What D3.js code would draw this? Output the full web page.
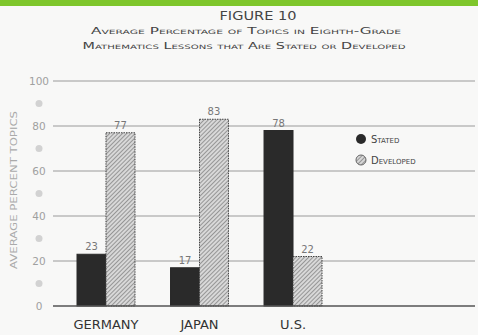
<!DOCTYPE html>
<html>
<head>
<meta charset="utf-8">
<script src="https://cdn.jsdelivr.net/npm/d3@7"></script>
<style>
  body { margin: 0; background: #f8f8f7; }
  svg { display: block; }
  text { font-family: "DejaVu Sans", sans-serif; }
</style>
</head>
<body>
<svg id="chart" width="478" height="335"></svg>
<script>
// data
const countries = ['GERMANY', 'JAPAN', 'U.S.']
const stated = [23, 17, 78]
const developed = [77, 83, 22]
const series = ['Stated', 'Developed']
const yTicks = [0, 20, 40, 60, 80, 100]
const yDots = [10, 30, 50, 70, 90]

const svg = d3.select('#chart')
const W = 478, H = 335

// green strip at the top
svg.append('rect').attr('x', 0).attr('y', 0).attr('width', W).attr('height', 6).attr('fill', '#7ec62b')

// hatch pattern for "developed"
const defs = svg.append('defs')
const pat = defs.append('pattern')
    .attr('id', 'hatch')
    .attr('patternUnits', 'userSpaceOnUse')
    .attr('width', 3).attr('height', 3)
    .attr('patternTransform', 'rotate(45)')
pat.append('rect').attr('width', 3).attr('height', 3).attr('fill', '#d8d8d8')
pat.append('line').attr('x1', 0).attr('y1', 0).attr('x2', 0).attr('y2', 3)
    .attr('stroke', '#6a6a6a').attr('stroke-width', 1.2)

// titles
const title = svg.append('g').attr('fill', '#444').attr('text-anchor', 'middle')
title.append('text').attr('x', 258).attr('y', 20).attr('font-size', 12.5)
    .attr('textLength', 77).attr('lengthAdjust', 'spacingAndGlyphs').text('FIGURE 10')
title.append('text').attr('x', 246).attr('y', 34).attr('font-size', 8.5)
    .style('font-variant', 'small-caps').attr('textLength', 310).attr('lengthAdjust', 'spacingAndGlyphs')
    .text('Average Percentage of Topics in Eighth-Grade')
title.append('text').attr('x', 244).attr('y', 49).attr('font-size', 8.5)
    .style('font-variant', 'small-caps').attr('textLength', 323).attr('lengthAdjust', 'spacingAndGlyphs')
    .text('Mathematics Lessons that Are Stated or Developed')

// scales
const x0 = d3.scaleBand().domain(countries).range([77, 322]).paddingInner(0.38).paddingOuter(0)
const x1 = d3.scaleBand().domain(series).range([0, x0.bandwidth()])
const y = d3.scaleLinear().domain([0, 100]).range([306, 81])

// gridlines
svg.append('g').selectAll('line').data(yTicks.filter(d => d > 0)).join('line')
    .attr('x1', 53).attr('x2', 475)
    .attr('y1', d => y(d)).attr('y2', d => y(d))
    .attr('stroke', '#9a9a9a').attr('stroke-width', 1)

// y tick labels
svg.append('g').selectAll('text').data(yTicks).join('text')
    .attr('x', 39).attr('y', d => y(d) + 4)
    .attr('text-anchor', 'middle').attr('font-size', 10.5).attr('fill', '#a0a0a0')
    .text(d => d)
svg.append('g').selectAll('circle').data(yDots).join('circle')
    .attr('cx', 39).attr('cy', d => y(d)).attr('r', 3.5).attr('fill', '#d2d2d2')

// y axis title
svg.append('text')
    .attr('transform', `translate(17,190) rotate(-90)`)
    .attr('text-anchor', 'middle').attr('font-size', 9.5).attr('fill', '#aaa')
    .attr('textLength', 158).attr('lengthAdjust', 'spacingAndGlyphs')
    .text('AVERAGE PERCENT TOPICS')

// bars
const rows = countries.map((c, i) => ({ c, vals: [{ s: 'Stated', v: stated[i] }, { s: 'Developed', v: developed[i] }] }))
const groups = svg.append('g').selectAll('g').data(rows).join('g')
    .attr('transform', d => `translate(${x0(d.c)},0)`)

groups.selectAll('rect').data(d => d.vals).join('rect')
    .attr('x', d => x1(d.s)).attr('width', x1.bandwidth())
    .attr('y', d => y(d.v)).attr('height', d => y(0) - y(d.v))
    .attr('fill', d => d.s === 'Stated' ? '#2a2a2a' : 'url(#hatch)')
    .attr('stroke', d => d.s === 'Stated' ? '#2a2a2a' : '#444')
    .attr('stroke-width', 1)
    .attr('stroke-dasharray', d => d.s === 'Stated' ? null : '1.5,1')

groups.selectAll('text').data(d => d.vals).join('text')
    .attr('x', d => x1(d.s) + x1.bandwidth() / 2)
    .attr('y', d => y(d.v) - 4)
    .attr('text-anchor', 'middle').attr('font-size', 10).attr('fill', '#777')
    .text(d => d.v)

// baseline
svg.append('line').attr('x1', 53).attr('x2', 475).attr('y1', y(0)).attr('y2', y(0))
    .attr('stroke', '#555').attr('stroke-width', 1.5)

// category labels
svg.append('g').selectAll('text').data(countries).join('text')
    .attr('x', d => x0(d) + x0.bandwidth() / 2).attr('y', 329)
    .attr('text-anchor', 'middle').attr('font-size', 13).attr('fill', '#333')
    .text(d => d)

// legend
const leg = svg.append('g').attr('transform', 'translate(361,139)')
leg.append('circle').attr('cx', 0).attr('cy', 0).attr('r', 5).attr('fill', '#2a2a2a')
leg.append('circle').attr('cx', 0).attr('cy', 21).attr('r', 5).attr('fill', 'url(#hatch)').attr('stroke', '#666')
leg.append('text').attr('x', 10).attr('y', 3.5).attr('font-size', 10).attr('fill', '#444')
    .style('font-variant', 'small-caps').text('Stated')
leg.append('text').attr('x', 10).attr('y', 24.5).attr('font-size', 10).attr('fill', '#444')
    .style('font-variant', 'small-caps').text('Developed')
</script>
</body>
</html>
